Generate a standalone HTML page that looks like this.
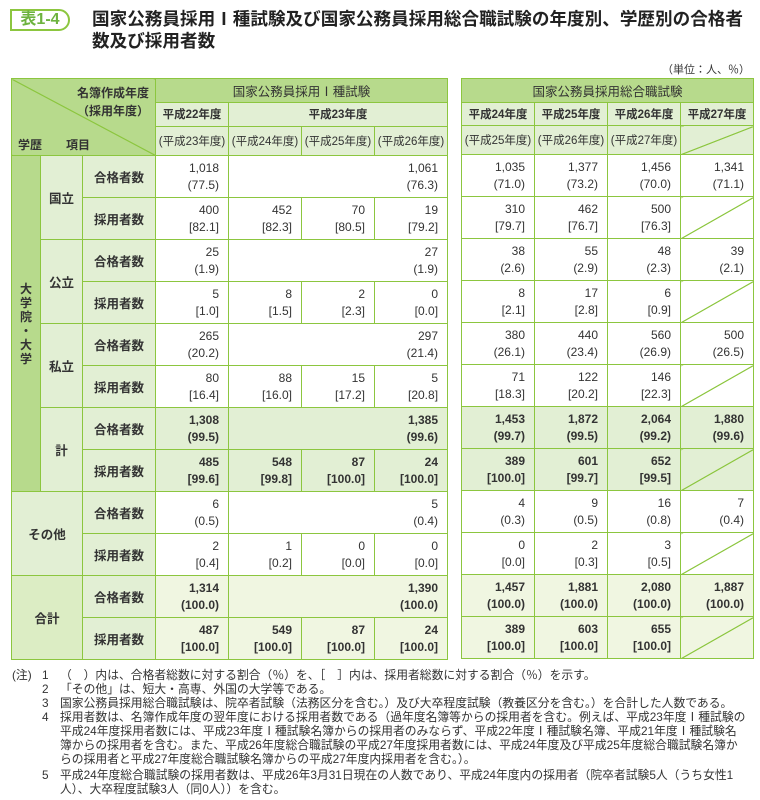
<!DOCTYPE html>
<html><head><meta charset="utf-8">
<style>
body{margin:0;width:760px;height:800px;background:#fff;font-family:"Liberation Sans","Noto Sans CJK JP",sans-serif;color:#333;position:relative;overflow:hidden}
.badge{position:absolute;left:10px;top:9px;width:60px;height:22px;border:2px solid #8cc63f;border-radius:0 12px 12px 0;color:#6db33f;font-size:16px;font-weight:bold;line-height:18px;text-align:center;box-sizing:border-box}
.title{position:absolute;left:92px;top:8px;font-size:17.6px;font-weight:bold;line-height:22px;color:#222;white-space:nowrap}
.unit{position:absolute;right:10px;top:61px;font-size:11px}
table{position:absolute;top:78px;border-collapse:collapse;table-layout:fixed;font-size:12px}
td,th{border:1.5px solid #8cc63f;padding:0;font-weight:normal}
th{background:#e2efd4;text-align:center;font-size:11.5px}
th.d{background:#b7da8c;font-size:12.5px}
.r1{height:24px}.r2{height:23px}.r3{height:29px}
tr.b td{height:41px}
td.v{text-align:right;padding-right:9px;line-height:17px;background:#fff;vertical-align:middle}
.k td.v{background:#e2efd4;font-weight:bold}
.g td.v{background:#f0f6e1;font-weight:bold}
td.s{background:#e2efd4;text-align:center;font-weight:bold;font-size:12.5px}
td.dk{background:#b7da8c;text-align:center;font-weight:bold;line-height:14px}
.dr{border-right:1.5px dashed #8cc63f}
.dt{border-top:1.5px dashed #8cc63f}
.diag{background:linear-gradient(to bottom right,transparent calc(50% - 0.8px),#8cc63f calc(50% - 0.4px),#8cc63f calc(50% + 0.4px),transparent calc(50% + 0.8px))!important}
.stub{background:#b7da8c linear-gradient(to top right,transparent calc(50% - 0.8px),#8cc63f calc(50% - 0.4px),#8cc63f calc(50% + 0.4px),transparent calc(50% + 0.8px));position:relative}
.notes{position:absolute;left:12px;top:668px;font-size:11.8px;line-height:14px;color:#333;white-space:nowrap}
.notes div{padding-left:48px;position:relative}
.notes span{position:absolute;left:30px}
</style></head><body>
<div class="badge">表1-4</div>
<div class="title">国家公務員採用Ⅰ種試験及び国家公務員採用総合職試験の年度別、学歴別の合格者<br>数及び採用者数</div>
<div class="unit">（単位：人、％）</div>

<table style="left:11px;width:436px">
<colgroup><col style="width:29px"><col style="width:42px"><col style="width:73px"><col style="width:73px"><col style="width:73px"><col style="width:73px"><col style="width:73px"></colgroup>
<tr class="r1"><th colspan="3" rowspan="3" class="stub" style="text-align:left">
<div style="position:relative;height:76px;font-weight:bold;font-size:12px">
<div style="position:absolute;right:6px;top:5px">名簿作成年度</div>
<div style="position:absolute;right:6px;top:23px">（採用年度）</div>
<div style="position:absolute;left:6px;top:57px">学歴　　項目</div></div></th>
<th colspan="4" class="d">国家公務員採用Ⅰ種試験</th></tr>
<tr class="r2"><th style="font-weight:bold">平成22年度</th><th colspan="3" style="font-weight:bold">平成23年度</th></tr>
<tr class="r3"><th class="dt">(平成23年度)</th><th class="dt dr">(平成24年度)</th><th class="dt dr">(平成25年度)</th><th class="dt">(平成26年度)</th></tr>

<tr class="b"><td rowspan="8" class="dk">大<br>学<br>院<br>・<br>大<br>学</td><td rowspan="2" class="s">国立</td><td class="s">合格者数</td><td class="v">1,018<br>(77.5)</td><td colspan="3" class="v">1,061<br>(76.3)</td></tr>
<tr class="b"><td class="s">採用者数</td><td class="v">400<br>[82.1]</td><td class="v dr">452<br>[82.3]</td><td class="v dr">70<br>[80.5]</td><td class="v">19<br>[79.2]</td></tr>
<tr class="b"><td rowspan="2" class="s">公立</td><td class="s">合格者数</td><td class="v">25<br>(1.9)</td><td colspan="3" class="v">27<br>(1.9)</td></tr>
<tr class="b"><td class="s">採用者数</td><td class="v">5<br>[1.0]</td><td class="v dr">8<br>[1.5]</td><td class="v dr">2<br>[2.3]</td><td class="v">0<br>[0.0]</td></tr>
<tr class="b"><td rowspan="2" class="s">私立</td><td class="s">合格者数</td><td class="v">265<br>(20.2)</td><td colspan="3" class="v">297<br>(21.4)</td></tr>
<tr class="b"><td class="s">採用者数</td><td class="v">80<br>[16.4]</td><td class="v dr">88<br>[16.0]</td><td class="v dr">15<br>[17.2]</td><td class="v">5<br>[20.8]</td></tr>
<tr class="b k"><td rowspan="2" class="s">計</td><td class="s">合格者数</td><td class="v">1,308<br>(99.5)</td><td colspan="3" class="v">1,385<br>(99.6)</td></tr>
<tr class="b k"><td class="s">採用者数</td><td class="v">485<br>[99.6]</td><td class="v dr">548<br>[99.8]</td><td class="v dr">87<br>[100.0]</td><td class="v">24<br>[100.0]</td></tr>
<tr class="b"><td rowspan="2" colspan="2" class="s">その他</td><td class="s">合格者数</td><td class="v">6<br>(0.5)</td><td colspan="3" class="v">5<br>(0.4)</td></tr>
<tr class="b"><td class="s">採用者数</td><td class="v">2<br>[0.4]</td><td class="v dr">1<br>[0.2]</td><td class="v dr">0<br>[0.0]</td><td class="v">0<br>[0.0]</td></tr>
<tr class="b g"><td rowspan="2" colspan="2" class="s" style="background:#dcedc4">合計</td><td class="s">合格者数</td><td class="v">1,314<br>(100.0)</td><td colspan="3" class="v">1,390<br>(100.0)</td></tr>
<tr class="b g"><td class="s">採用者数</td><td class="v">487<br>[100.0]</td><td class="v dr">549<br>[100.0]</td><td class="v dr">87<br>[100.0]</td><td class="v">24<br>[100.0]</td></tr>
</table>

<table style="left:461px;width:292px">
<colgroup><col style="width:73px"><col style="width:73px"><col style="width:73px"><col style="width:73px"></colgroup>
<tr class="r1"><th colspan="4" class="d">国家公務員採用総合職試験</th></tr>
<tr class="r2"><th style="font-weight:bold">平成24年度</th><th style="font-weight:bold">平成25年度</th><th style="font-weight:bold">平成26年度</th><th style="font-weight:bold">平成27年度</th></tr>
<tr class="r3"><th class="dt">(平成25年度)</th><th class="dt">(平成26年度)</th><th class="dt">(平成27年度)</th><th class="dt diag" style="background-color:#e2efd4!important"></th></tr>
<tr class="b"><td class="v">1,035<br>(71.0)</td><td class="v">1,377<br>(73.2)</td><td class="v">1,456<br>(70.0)</td><td class="v">1,341<br>(71.1)</td></tr>
<tr class="b"><td class="v">310<br>[79.7]</td><td class="v">462<br>[76.7]</td><td class="v">500<br>[76.3]</td><td class="v diag"></td></tr>
<tr class="b"><td class="v">38<br>(2.6)</td><td class="v">55<br>(2.9)</td><td class="v">48<br>(2.3)</td><td class="v">39<br>(2.1)</td></tr>
<tr class="b"><td class="v">8<br>[2.1]</td><td class="v">17<br>[2.8]</td><td class="v">6<br>[0.9]</td><td class="v diag"></td></tr>
<tr class="b"><td class="v">380<br>(26.1)</td><td class="v">440<br>(23.4)</td><td class="v">560<br>(26.9)</td><td class="v">500<br>(26.5)</td></tr>
<tr class="b"><td class="v">71<br>[18.3]</td><td class="v">122<br>[20.2]</td><td class="v">146<br>[22.3]</td><td class="v diag"></td></tr>
<tr class="b k"><td class="v">1,453<br>(99.7)</td><td class="v">1,872<br>(99.5)</td><td class="v">2,064<br>(99.2)</td><td class="v">1,880<br>(99.6)</td></tr>
<tr class="b k"><td class="v">389<br>[100.0]</td><td class="v">601<br>[99.7]</td><td class="v">652<br>[99.5]</td><td class="v diag" style="background-color:#e2efd4!important"></td></tr>
<tr class="b"><td class="v">4<br>(0.3)</td><td class="v">9<br>(0.5)</td><td class="v">16<br>(0.8)</td><td class="v">7<br>(0.4)</td></tr>
<tr class="b"><td class="v">0<br>[0.0]</td><td class="v">2<br>[0.3]</td><td class="v">3<br>[0.5]</td><td class="v diag"></td></tr>
<tr class="b g"><td class="v">1,457<br>(100.0)</td><td class="v">1,881<br>(100.0)</td><td class="v">2,080<br>(100.0)</td><td class="v">1,887<br>(100.0)</td></tr>
<tr class="b g"><td class="v">389<br>[100.0]</td><td class="v">603<br>[100.0]</td><td class="v">655<br>[100.0]</td><td class="v diag" style="background-color:#f0f6e1!important"></td></tr>
</table>

<div class="notes">
<div><span style="left:0">(注)</span><span>1</span>（　）内は、合格者総数に対する割合（％）を、［　］内は、採用者総数に対する割合（％）を示す。</div>
<div><span>2</span>「その他」は、短大・高専、外国の大学等である。</div>
<div><span>3</span>国家公務員採用総合職試験は、院卒者試験（法務区分を含む。）及び大卒程度試験（教養区分を含む。）を合計した人数である。</div>
<div><span>4</span>採用者数は、名簿作成年度の翌年度における採用者数である（過年度名簿等からの採用者を含む。例えば、平成23年度Ⅰ種試験の<br>平成24年度採用者数には、平成23年度Ⅰ種試験名簿からの採用者のみならず、平成22年度Ⅰ種試験名簿、平成21年度Ⅰ種試験名<br>簿からの採用者を含む。また、平成26年度総合職試験の平成27年度採用者数には、平成24年度及び平成25年度総合職試験名簿か<br>らの採用者と平成27年度総合職試験名簿からの平成27年度内採用者を含む。）。</div>
<div style="margin-top:2px"><span>5</span>平成24年度総合職試験の採用者数は、平成26年3月31日現在の人数であり、平成24年度内の採用者（院卒者試験5人（うち女性1<br>人）、大卒程度試験3人（同0人））を含む。</div>
</div>
</body></html>
